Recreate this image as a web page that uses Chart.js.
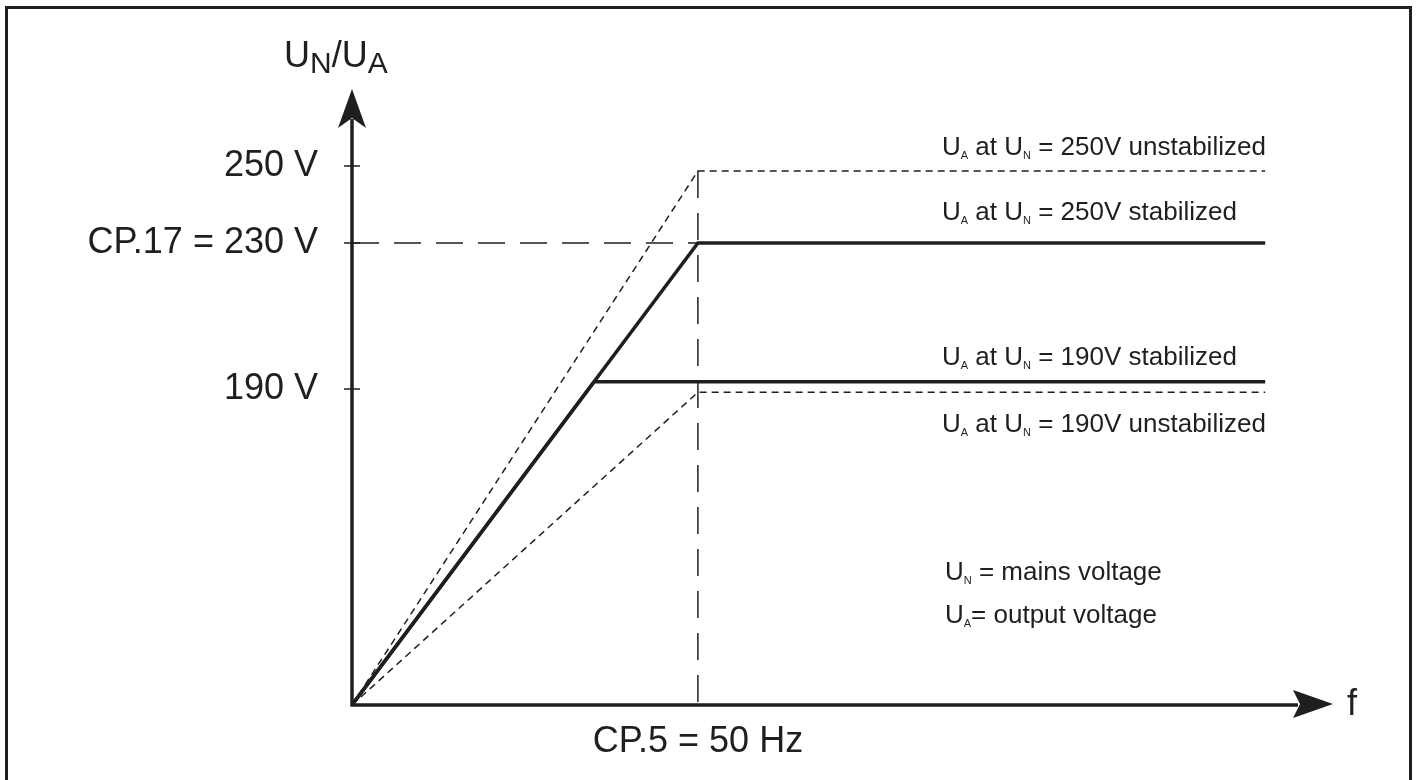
<!DOCTYPE html>
<html>
<head>
<meta charset="utf-8">
<title>U/f characteristic</title>
<script src="https://cdn.jsdelivr.net/npm/chart.js@4/dist/chart.umd.min.js"></script>
<style>
  html, body { margin: 0; padding: 0; background: #ffffff; }
  canvas { display: block; }
</style>
</head>
<body>
<canvas id="uf" width="1417" height="780"></canvas>
<script>
// Frequency (Hz) and voltage (V) points of each characteristic
const unstab250Hz = [0, 50, 132];
const unstab250V  = [0, 248.7, 248.7];
const stab250Hz   = [0, 50, 132];
const stab250V    = [0, 230, 230];
const stab190Hz   = [0, 35, 132];
const stab190V    = [0, 192, 192];
const unstab190Hz = [0, 50, 132];
const unstab190V  = [0, 188, 188];

// Guide lines for the set points CP.17 and CP.5
const guide230Hz = [0, 50];
const guide230V  = [230, 230];
const guide50Hz  = [50, 50];
const guide50V   = [248.7, 0];

// Axis ticks
const yTickValues = [190, 230, 250];
const yTickLabels = ['190 V', 'CP.17 = 230 V', '250 V'];
const xTickValues = [50];
const xTickLabels = ['CP.5 = 50 Hz'];

const FONT = "'Liberation Sans', Arial, Helvetica, sans-serif";
const INK = '#1f1f1f';

const pts = (xs, ys) => xs.map((x, i) => ({ x, y: ys[i] }));

// Voltage axis drawn schematically: piecewise-linear between the marked voltages
class PiecewiseScale extends Chart.LinearScale {
  static id = 'piecewise';
  _frac(v) {
    const s = this.options.stops, f = this.options.fractions;
    if (v <= s[0]) return f[0];
    for (let i = 1; i < s.length; i++) {
      if (v <= s[i]) return f[i - 1] + (v - s[i - 1]) / (s[i] - s[i - 1]) * (f[i] - f[i - 1]);
    }
    return f[f.length - 1];
  }
  getPixelForValue(value) {
    return this.bottom - this._frac(value) * (this.bottom - this.top);
  }
  getValueForPixel(pixel) {
    const s = this.options.stops, f = this.options.fractions;
    const d = (this.bottom - pixel) / (this.bottom - this.top);
    for (let i = 1; i < s.length; i++) {
      if (d <= f[i]) return s[i - 1] + (d - f[i - 1]) / (f[i] - f[i - 1]) * (s[i] - s[i - 1]);
    }
    return s[s.length - 1];
  }
}
Chart.register(PiecewiseScale);

// Text with subscripts: segments of {t, sub}
function richText(ctx, x, y, segs, size, subSize, subDrop) {
  let cx = x;
  const drop = subDrop ?? Math.round(size * 0.16);
  segs.forEach(sg => {
    ctx.font = (sg.sub ? subSize : size) + 'px ' + FONT;
    ctx.fillText(sg.t, cx, sg.sub ? y + drop : y);
    cx += ctx.measureText(sg.t).width;
  });
}

const decorations = {
  id: 'decorations',
  afterDatasetsDraw(chart) {
    const { ctx, chartArea: a, scales: { x, y } } = chart;
    const x0 = x.getPixelForValue(0);
    const y0 = y.getPixelForValue(0);
    ctx.save();
    ctx.fillStyle = INK;
    ctx.strokeStyle = INK;

    // frame
    ctx.lineWidth = 3;
    ctx.strokeRect(6.5, 7.5, 1404, 800);

    // axes
    ctx.lineWidth = 3.5;
    ctx.beginPath();
    ctx.moveTo(x0, y0 + 1.5);
    ctx.lineTo(x0, a.top + 30);
    ctx.moveTo(x0 - 1.5, y0);
    ctx.lineTo(a.right - 35, y0);
    ctx.stroke();

    // arrow heads
    ctx.beginPath();
    ctx.moveTo(x0, a.top);
    ctx.lineTo(x0 + 14, a.top + 39);
    ctx.lineTo(x0, a.top + 29);
    ctx.lineTo(x0 - 14, a.top + 39);
    ctx.closePath();
    ctx.fill();
    ctx.beginPath();
    ctx.moveTo(a.right, y0 - 1);
    ctx.lineTo(a.right - 40, y0 - 15);
    ctx.lineTo(a.right - 33, y0 - 1);
    ctx.lineTo(a.right - 40, y0 + 13);
    ctx.closePath();
    ctx.fill();

    // tick marks across the voltage axis
    ctx.lineWidth = 1.5;
    yTickValues.forEach(v => {
      const py = y.getPixelForValue(v);
      ctx.beginPath();
      ctx.moveTo(x0 - 8, py);
      ctx.lineTo(x0 + 8, py);
      ctx.stroke();
    });

    // axis titles
    ctx.textBaseline = 'alphabetic';
    ctx.textAlign = 'left';
    richText(ctx, 284, 67, [
      { t: 'U' }, { t: 'N', sub: true }, { t: '/U' }, { t: 'A', sub: true }
    ], 36, 30, 6);
    ctx.font = '36px ' + FONT;
    ctx.fillText('f', 1347, 715);

    // curve labels
    const lx = 942;
    const lab = (lev, off, val, kind) => richText(ctx, lx, y.getPixelForValue(lev) + off, [
      { t: 'U' }, { t: 'A', sub: true }, { t: ' at U' }, { t: 'N', sub: true }, { t: ' = ' + val + 'V ' + kind }
    ], 26, 11, 4);
    lab(unstab250V[1], -16, 250, 'unstabilized');
    lab(stab250V[1], -23, 250, 'stabilized');
    lab(stab190V[1], -17, 190, 'stabilized');
    lab(unstab190V[1], 40, 190, 'unstabilized');

    // symbol key
    richText(ctx, 945, 580, [{ t: 'U' }, { t: 'N', sub: true }, { t: ' = mains voltage' }], 26, 11, 4);
    richText(ctx, 945, 623, [{ t: 'U' }, { t: 'A', sub: true }, { t: '= output voltage' }], 26, 11, 4);

    ctx.restore();
  }
};

const thinDash = [7, 5];
const longDash = [27, 15];
const line = (data, width, dash) => ({
  data, borderColor: INK, borderWidth: width, borderDash: dash || [],
  pointRadius: 0, fill: false, tension: 0, borderCapStyle: 'butt', borderJoinStyle: 'miter'
});

new Chart(document.getElementById('uf'), {
  type: 'line',
  data: {
    datasets: [
      line(pts(guide230Hz, guide230V), 1.5, longDash),
      line(pts(guide50Hz, guide50V), 1.5, longDash),
      line(pts(unstab250Hz, unstab250V), 1.5, thinDash),
      line(pts(unstab190Hz, unstab190V), 1.5, thinDash),
      line(pts(stab250Hz, stab250V), 3.5),
      line(pts(stab190Hz, stab190V), 3.5)
    ]
  },
  options: {
    responsive: false,
    animation: false,
    events: [],
    layout: { padding: { left: 0, right: 84, top: 89, bottom: 0 } },
    plugins: { legend: { display: false }, tooltip: { enabled: false } },
    scales: {
      x: {
        type: 'linear',
        min: 0,
        max: 141.8,
        grid: { display: false, drawTicks: false },
        border: { display: false },
        afterBuildTicks: s => { s.ticks = xTickValues.map(v => ({ value: v })); },
        afterFit: s => { s.height = 75; },
        ticks: {
          autoSkip: false,
          maxRotation: 0,
          padding: 15,
          color: INK,
          font: { family: FONT, size: 36 },
          callback: v => xTickLabels[xTickValues.indexOf(v)] ?? ''
        }
      },
      y: {
        type: 'piecewise',
        min: 0,
        max: 270,
        stops: [0, 190, 230, 250, 270],
        fractions: [0, 0.513, 0.75, 0.875, 1],
        grid: { display: false, drawTicks: false },
        border: { display: false },
        afterBuildTicks: s => { s.ticks = yTickValues.map(v => ({ value: v })); },
        afterFit: s => { s.width = 352; },
        ticks: {
          autoSkip: false,
          padding: 34,
          color: INK,
          font: { family: FONT, size: 36 },
          callback: v => yTickLabels[yTickValues.indexOf(v)] ?? ''
        }
      }
    }
  },
  plugins: [decorations]
});
</script>
</body>
</html>
